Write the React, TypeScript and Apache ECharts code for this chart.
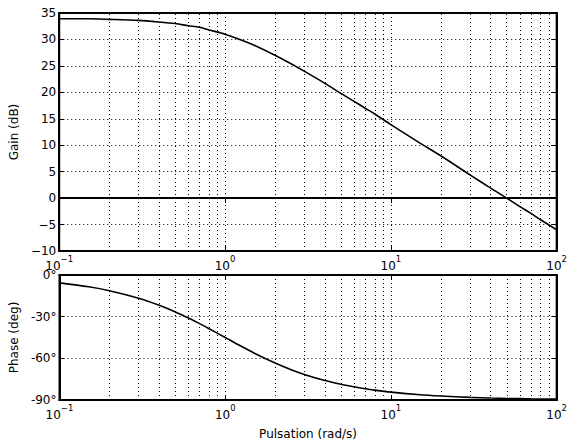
import React, { useEffect, useRef } from "react";
import * as echarts from "echarts";

// Frequency response samples (rad/s, dB, degrees)
const freq = [0.1, 0.15, 0.2, 0.3, 0.4, 0.5, 0.6, 0.7, 0.8, 1, 1.2, 1.5, 2, 2.5, 3, 4, 5, 6, 7, 8, 10, 15, 20, 30, 40, 50, 60, 70, 80, 100];
const gainDb = [33.9, 33.9, 33.8, 33.6, 33.3, 33.0, 32.6, 32.3, 31.8, 31.0, 30.1, 28.9, 27.0, 25.4, 24.0, 21.7, 19.8, 18.3, 17.0, 15.9, 13.9, 10.4, 8.0, 4.4, 1.9, 0.0, -1.6, -2.9, -4.1, -6.0];
const phaseDeg = [-5.7, -8.5, -11.3, -16.7, -21.8, -26.6, -31.0, -35.0, -38.7, -45.0, -50.2, -56.3, -63.4, -68.2, -71.6, -76.0, -78.7, -80.5, -81.9, -82.9, -84.3, -86.2, -87.1, -88.1, -88.6, -88.9, -89.0, -89.2, -89.3, -89.4];

// Minor (log) grid positions
const minorGrid = [0.2, 0.3, 0.4, 0.5, 0.6, 0.7, 0.8, 0.9, 2, 3, 4, 5, 6, 7, 8, 9, 20, 30, 40, 50, 60, 70, 80, 90];

const FONT = "DejaVu Sans";
const dotted = { color: "#000", width: 1, type: [1, 3] as number[] };

const expLabel = (v: number) => {
  const e = Math.round(Math.log10(v));
  const s = e < 0 ? "\u2212" + -e : String(e);
  return `{b|10}{s|${s}}`;
};

const xRich = {
  b: { fontFamily: FONT, fontSize: 12, color: "#000", verticalAlign: "bottom", lineHeight: 18 },
  s: { fontFamily: FONT, fontSize: 8.5, color: "#000", verticalAlign: "top", lineHeight: 18 },
};

function logX(gridIndex: number, labels: boolean, name?: string) {
  return {
    type: "log",
    logBase: 10,
    min: 0.1,
    max: 100,
    gridIndex,
    position: "bottom",
    axisLine: { show: true, onZero: false, lineStyle: { color: "#000", width: 2 } },
    axisTick: { show: true, inside: true, length: 5, lineStyle: { color: "#000" } },
    axisLabel: labels
      ? { show: true, margin: 3, formatter: expLabel, rich: xRich }
      : { show: false },
    splitLine: { show: true, lineStyle: dotted },
    name,
    nameLocation: "middle",
    nameGap: 28,
    nameTextStyle: { fontFamily: FONT, fontSize: 12, color: "#000" },
  };
}

function topX(gridIndex: number) {
  return {
    type: "log",
    logBase: 10,
    min: 0.1,
    max: 100,
    gridIndex,
    position: "top",
    axisLine: { show: true, lineStyle: { color: "#000", width: 2 } },
    axisTick: { show: true, inside: true, length: 5, lineStyle: { color: "#000" } },
    axisLabel: { show: false },
    splitLine: { show: false },
  };
}

export default function App() {
  const ref = useRef<HTMLDivElement>(null);

  useEffect(() => {
    if (!ref.current) return;
    const chart = echarts.init(ref.current, null, { renderer: "svg" });
    const gainData = freq.map((f, i) => [f, gainDb[i]]);
    const phaseData = freq.map((f, i) => [f, phaseDeg[i]]);
    const minorLines = minorGrid.map((x) => ({ xAxis: x }));

    const yCommon = {
      axisLine: { show: true, onZero: false, lineStyle: { color: "#000", width: 2 } },
      axisTick: { show: true, inside: true, length: 5, lineStyle: { color: "#000" } },
      splitLine: { show: true, lineStyle: dotted },
      nameLocation: "middle",
      nameRotate: 90,
      nameTextStyle: { fontFamily: FONT, fontSize: 12, color: "#000" },
    };

    chart.setOption({
      animation: false,
      backgroundColor: "#fff",
      textStyle: { fontFamily: FONT },
      grid: [
        { left: 55, top: 13, width: 508, height: 238, show: true, borderColor: "#000", borderWidth: 2 },
        { left: 55, top: 275, width: 508, height: 131, show: true, borderColor: "#000", borderWidth: 2 },
      ],
      xAxis: [logX(0, true), logX(1, true, "Pulsation (rad/s)"), topX(0), topX(1)],
      yAxis: [
        {
          ...yCommon,
          type: "value",
          gridIndex: 0,
          min: -10,
          max: 35,
          interval: 5,
          name: "Gain (dB)",
          nameGap: 29,
          axisLabel: {
            fontFamily: FONT,
            fontSize: 12,
            color: "#000",
            margin: 3,
            formatter: (v: number) => (v < 0 ? "\u2212" + Math.abs(v) : String(v)),
          },
        },
        {
          ...yCommon,
          type: "value",
          gridIndex: 1,
          min: -90,
          max: 0,
          interval: 30,
          name: "Phase (deg)",
          nameGap: 29,
          axisLabel: {
            fontFamily: FONT,
            fontSize: 12,
            color: "#000",
            margin: 3,
            formatter: (v: number) => `${v}°`,
          },
        },
        {
          type: "value",
          gridIndex: 0,
          min: -10,
          max: 35,
          interval: 5,
          position: "right",
          axisLine: { show: true, lineStyle: { color: "#000", width: 2 } },
          axisTick: { show: true, inside: true, length: 5, lineStyle: { color: "#000" } },
          axisLabel: { show: false },
          splitLine: { show: false },
        },
        {
          type: "value",
          gridIndex: 1,
          min: -90,
          max: 0,
          interval: 30,
          position: "right",
          axisLine: { show: true, lineStyle: { color: "#000", width: 2 } },
          axisTick: { show: true, inside: true, length: 5, lineStyle: { color: "#000" } },
          axisLabel: { show: false },
          splitLine: { show: false },
        },
      ],
      series: [
        {
          type: "line",
          xAxisIndex: 0,
          yAxisIndex: 0,
          data: gainData,
          showSymbol: false,
          smooth: 0.3,
          lineStyle: { color: "#000", width: 1.6 },
          markLine: {
            silent: true,
            symbol: ["none", "none"],
            label: { show: false },
            data: [
              ...minorLines.map((d) => ({ ...d, lineStyle: dotted })),
              { yAxis: 0, lineStyle: { color: "#000", width: 1.6, type: "solid" } },
            ],
          },
          z: 3,
        },
        {
          type: "line",
          xAxisIndex: 1,
          yAxisIndex: 1,
          data: phaseData,
          showSymbol: false,
          smooth: 0.3,
          lineStyle: { color: "#000", width: 1.6 },
          markLine: {
            silent: true,
            symbol: ["none", "none"],
            label: { show: false },
            lineStyle: dotted,
            data: minorLines,
          },
          z: 3,
        },
      ],
    });

    return () => chart.dispose();
  }, []);

  return <div ref={ref} style={{ width: 570, height: 441, position: "absolute", left: 0, top: 0 }} />;
}
